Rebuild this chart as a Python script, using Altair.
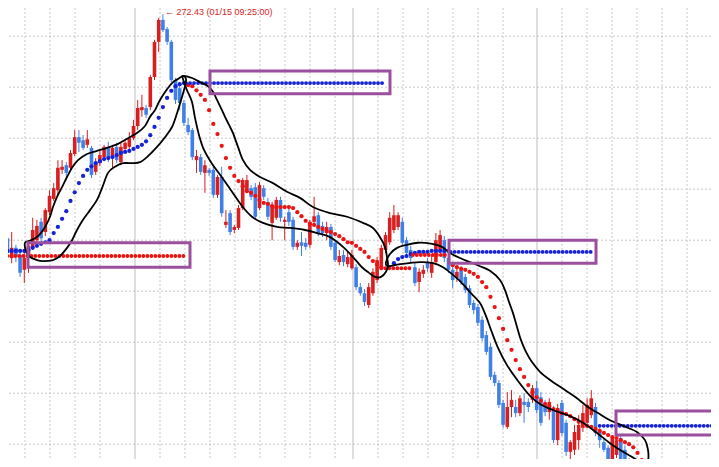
import altair as alt
import pandas as pd

RED_C = "#d81e1e"
BLUE_C = "#3f7fe6"
RED_D = "#ea1414"
BLUE_D = "#1622d6"
PURPLE = "#9b4f9f"
GRID = "#c8c8c8"

# ---- candles (price units) ----
opens = [268.10, 268.04, 267.65, 267.85, 267.71, 267.42, 267.65, 267.85, 268.00, 268.36,
         268.16, 268.55, 268.81, 268.98, 269.38, 269.47, 269.42, 269.69, 270.02, 269.96,
         269.87, 269.81, 269.34, 269.51, 269.63, 269.83, 269.61, 269.83, 269.53, 269.79,
         269.83, 270.00, 270.24, 270.55, 270.59, 270.61, 271.20, 271.89, 272.32, 272.14,
         271.89, 271.14, 270.98, 270.69, 270.26, 270.16, 269.57, 269.63, 269.32, 269.38,
         269.38, 268.89, 269.24, 268.30, 268.53, 268.20, 268.24, 268.63, 268.98, 269.02,
         269.04, 268.63, 269.02, 268.75, 268.34, 268.44, 268.79, 268.36, 268.55, 268.40,
         267.87, 267.96, 267.95, 267.91, 268.36, 268.49, 268.28, 268.14, 268.26, 267.95,
         267.57, 267.71, 267.53, 267.45, 267.47, 267.08, 266.96, 266.73, 266.96, 267.22,
         267.45, 267.81, 267.96, 268.20, 268.26, 268.36, 268.00, 267.81, 267.47, 267.18,
         267.34, 267.57, 267.36, 267.57, 267.81, 268.00, 267.65, 267.42, 267.26, 267.42,
         267.28, 267.06, 266.77, 266.69, 266.44, 266.14, 265.91, 265.36, 265.20, 264.81,
         264.34, 264.73, 264.73, 264.61, 264.83, 264.83, 264.87, 265.10, 264.92, 264.77,
         264.63, 264.67, 264.08, 264.81, 264.42, 263.85, 263.89, 264.08, 264.32, 264.42,
         264.57, 264.73, 264.28, 264.04, 263.93, 263.63, 263.79, 264.12, 263.89, 263.65]
highs = [268.59, 268.20, 268.16, 267.91, 267.81, 267.77, 268.00, 268.44, 268.40, 268.44,
         268.63, 268.98, 269.12, 269.57, 269.57, 269.53, 269.77, 270.16, 270.16, 270.06,
         270.16, 269.85, 269.61, 269.77, 269.87, 269.93, 269.87, 269.91, 269.91, 269.96,
         270.12, 270.36, 270.75, 270.85, 270.65, 271.24, 271.93, 272.36, 272.43, 272.18,
         271.93, 271.18, 271.06, 270.75, 270.40, 270.20, 269.77, 269.69, 269.57, 269.42,
         269.44, 269.28, 269.44, 268.59, 268.59, 268.30, 268.69, 269.22, 269.28, 269.08,
         269.12, 269.14, 269.08, 268.83, 268.75, 268.85, 268.85, 268.46, 268.63, 268.46,
         268.00, 268.16, 268.04, 268.40, 268.85, 268.55, 268.36, 268.36, 268.32, 268.00,
         267.81, 267.81, 267.77, 267.81, 267.53, 267.16, 267.04, 267.16, 267.45, 267.67,
         267.91, 268.16, 268.55, 268.69, 268.55, 268.44, 268.06, 267.89, 267.55, 267.45,
         267.51, 267.65, 267.71, 268.14, 268.20, 268.08, 267.71, 267.49, 267.45, 267.49,
         267.34, 267.12, 266.83, 266.75, 266.51, 266.22, 265.98, 265.42, 265.26, 264.87,
         265.02, 265.06, 264.87, 264.96, 265.00, 264.90, 265.16, 265.24, 265.02, 264.87,
         264.90, 264.75, 264.79, 264.87, 264.48, 264.08, 264.38, 264.57, 264.77, 264.90,
         265.06, 264.81, 264.32, 264.12, 263.98, 264.18, 264.14, 264.18, 263.98, 263.73]
lows = [267.91, 267.67, 267.55, 267.57, 267.28, 267.16, 267.36, 267.81, 267.91, 267.95,
        268.08, 268.49, 268.77, 268.87, 269.30, 269.24, 269.38, 269.65, 269.73, 269.77,
        269.81, 269.22, 269.28, 269.45, 269.57, 269.53, 269.42, 269.51, 269.47, 269.75,
        269.77, 269.96, 270.16, 270.42, 270.40, 270.55, 271.14, 271.69, 272.08, 271.83,
        271.10, 270.67, 270.55, 270.24, 270.06, 269.57, 269.32, 269.28, 268.93, 269.26,
        268.83, 268.83, 268.46, 268.24, 268.10, 268.14, 268.20, 268.59, 268.93, 268.79,
        268.40, 268.59, 268.79, 268.40, 268.00, 268.40, 268.36, 268.00, 268.28, 267.81,
        267.81, 267.69, 267.81, 267.85, 268.30, 268.08, 268.06, 268.00, 267.81, 267.57,
        267.51, 267.49, 267.47, 267.42, 267.02, 266.91, 266.71, 266.67, 266.91, 267.16,
        267.42, 267.75, 267.91, 268.14, 268.20, 267.89, 267.69, 267.57, 267.10, 266.98,
        267.26, 267.38, 267.26, 267.51, 267.75, 267.57, 267.36, 267.06, 267.18, 267.12,
        266.96, 266.67, 266.55, 266.32, 266.02, 265.75, 265.26, 265.14, 264.71, 264.32,
        264.30, 264.53, 264.53, 264.55, 264.42, 264.63, 264.81, 264.61, 264.36, 264.55,
        264.48, 264.02, 263.98, 264.16, 263.77, 263.65, 263.79, 263.89, 264.24, 264.32,
        264.51, 264.16, 263.93, 263.85, 263.55, 263.55, 263.73, 263.45, 263.30, 263.20]
closes = [268.00, 267.75, 267.85, 267.67, 267.36, 267.65, 267.89, 268.20, 268.28, 268.04,
          268.59, 268.87, 269.02, 269.42, 269.44, 269.32, 269.71, 270.02, 269.91, 269.81,
          269.98, 269.28, 269.53, 269.67, 269.83, 269.61, 269.81, 269.57, 269.83, 269.91,
          270.00, 270.24, 270.59, 270.61, 270.46, 271.20, 271.89, 272.32, 272.12, 271.89,
          271.14, 270.75, 270.69, 270.30, 270.12, 269.63, 269.65, 269.34, 269.47, 269.32,
          268.89, 269.24, 268.53, 268.36, 268.16, 268.26, 268.63, 269.18, 269.18, 268.85,
          268.46, 269.08, 268.85, 268.46, 268.69, 268.79, 268.44, 268.40, 268.36, 267.87,
          267.95, 267.89, 267.87, 268.36, 268.47, 268.14, 268.14, 268.26, 267.87, 267.61,
          267.69, 267.57, 267.67, 267.71, 267.08, 266.96, 266.79, 267.08, 267.38, 267.61,
          267.85, 268.10, 268.44, 268.49, 268.49, 267.95, 267.75, 267.65, 267.16, 267.38,
          267.42, 267.45, 267.57, 268.00, 268.10, 267.65, 267.42, 267.22, 267.38, 267.18,
          267.02, 266.73, 266.63, 266.38, 266.08, 265.81, 265.32, 265.20, 264.77, 264.38,
          264.73, 264.87, 264.61, 264.90, 264.77, 264.73, 265.10, 264.67, 264.42, 264.63,
          264.83, 264.08, 264.71, 264.22, 263.85, 264.04, 264.24, 264.38, 264.61, 264.77,
          264.90, 264.22, 264.08, 263.89, 263.63, 264.12, 264.08, 263.55, 263.40, 263.30]

# ---- trailing indicator dots (start bar, values) ----
long1_start = 0
long1_vals = [267.79, 267.79, 267.79, 267.79, 267.79, 267.79, 267.81, 267.85, 267.89, 267.93,
              267.96, 268.00, 268.14, 268.26, 268.42, 268.57, 268.77, 268.94, 269.12, 269.26,
              269.38, 269.45, 269.51, 269.55, 269.59, 269.61, 269.63, 269.67, 269.71, 269.73,
              269.75, 269.79, 269.83, 269.87, 269.94, 270.06, 270.22, 270.40, 270.61, 270.79,
              270.93, 271.02, 271.06, 271.08]
short1_start = 44
short1_vals = [271.04, 271.02, 270.94, 270.85, 270.75, 270.55, 270.28, 270.08, 269.85, 269.61,
               269.42, 269.26, 269.16, 269.06, 268.96, 268.93, 268.87, 268.79, 268.73, 268.71,
               268.67, 268.65, 268.65, 268.65, 268.65, 268.63, 268.55, 268.47, 268.38, 268.32,
               268.30, 268.26, 268.22, 268.18, 268.16, 268.12, 268.08, 268.02, 267.96, 267.95,
               267.89, 267.83, 267.77, 267.67, 267.59, 267.53, 267.47]
long2_start = 93
long2_vals = [267.55, 267.63, 267.67, 267.69, 267.73, 267.75, 267.77, 267.77, 267.77, 267.79,
              267.79, 267.79, 267.79, 267.79]
short2_start = 107
short2_vals = [267.51, 267.47, 267.44, 267.42, 267.38, 267.34, 267.28, 267.18, 267.08, 266.89,
               266.69, 266.47, 266.26, 266.04, 265.85, 265.65, 265.47, 265.32, 265.16, 265.02,
               264.92, 264.85, 264.79, 264.75, 264.69, 264.65, 264.61, 264.59, 264.55, 264.49,
               264.44, 264.40, 264.36, 264.34, 264.30, 264.26, 264.22, 264.18, 264.14, 264.12,
               264.08, 264.04, 264.00, 263.94, 263.83, 263.69, 263.55]

# ---- level extensions ----
ext_start = [0, 43.5, 90, 97.5, 106.5, 142]
ext_end = [43.3, 90.6, 97, 106, 140, 168.8]
ext_level = [267.69, 271.08, 267.45, 267.71, 267.77, 264.36]
ext_trend = ["short", "long", "short", "short", "long", "long"]

# ---- grid ----
grid_prices = [264, 265, 266, 267, 268, 269, 270, 271, 272]
grid_dotted = [5.17, 11.12, 17.07, 23.02, 37.31, 43.26, 49.21, 55.17, 61.12, 67.07, 73.02,
               78.98, 89.21, 95.17, 101.12, 107.07, 113.02, 118.98, 133.02, 138.98, 144.93,
               150.88, 156.83, 162.79, 168.74]
grid_solid = [31.36, 83.26, 127.07]

# ---- hand-drawn outlines (bar, price) ----
shape_a = [(5.17, 267.95), (6.36, 267.99), (8.26, 268.08), (9.93, 268.26), (11.12, 268.46),
           (11.83, 268.65), (12.79, 268.85), (13.98, 269.04), (15.17, 269.24), (16.36, 269.42),
           (17.79, 269.57), (19.93, 269.69), (22.31, 269.75), (24.69, 269.81), (27.31, 269.89),
           (29.69, 270.00), (31.83, 270.10), (33.74, 270.24), (34.93, 270.42), (36.12, 270.55),
           (37.31, 270.75), (38.98, 270.96), (40.40, 271.10), (41.60, 271.16), (42.79, 271.22),
           (43.50, 271.16), (43.26, 271.02), (42.55, 270.81), (41.36, 270.49), (40.17, 270.22),
           (38.50, 270.02), (36.60, 269.83), (34.21, 269.63), (32.55, 269.53), (30.88, 269.51),
           (28.50, 269.51), (26.60, 269.44), (24.93, 269.32), (23.50, 269.02), (22.31, 268.79),
           (20.64, 268.59), (18.98, 268.40), (17.55, 268.20), (16.36, 268.00), (15.17, 267.85),
           (13.50, 267.69), (11.83, 267.61), (9.45, 267.59), (8.02, 267.61), (6.36, 267.67),
           (5.40, 267.79)]
shape_b = [(42.79, 271.22), (44.93, 271.18), (46.83, 271.10), (48.74, 271.02), (49.93, 270.91),
           (50.88, 270.75), (51.83, 270.59), (52.79, 270.42), (53.74, 270.26), (54.69, 270.10),
           (55.88, 269.83), (57.07, 269.57), (58.74, 269.38), (61.12, 269.24), (64.21, 269.12),
           (67.55, 268.95), (70.64, 268.83), (73.74, 268.65), (77.79, 268.53), (81.83, 268.46),
           (85.64, 268.34), (88.02, 268.24), (89.69, 268.06), (90.88, 267.87), (91.36, 267.67),
           (91.60, 267.51), (91.12, 267.38), (89.93, 267.28), (88.50, 267.28), (87.07, 267.36),
           (85.40, 267.47), (83.26, 267.67), (80.88, 267.87), (77.79, 268.06), (74.69, 268.14),
           (71.83, 268.20), (68.26, 268.24), (65.17, 268.26), (61.83, 268.34), (59.21, 268.46),
           (56.83, 268.67), (54.21, 268.98), (51.83, 269.26), (49.69, 269.50), (47.79, 269.77),
           (46.60, 270.06), (45.64, 270.40), (44.93, 270.71), (43.74, 270.94), (43.02, 271.10)]
shape_c = [(91.12, 267.57), (92.07, 267.73), (93.74, 267.85), (96.12, 267.91), (98.74, 267.95),
           (102.07, 267.93), (104.45, 267.87), (106.36, 267.75), (108.74, 267.65), (111.12, 267.57),
           (113.50, 267.49), (115.88, 267.40), (118.26, 267.22), (119.45, 267.02), (120.40, 266.79),
           (121.36, 266.57), (122.31, 266.30), (123.26, 266.04), (124.45, 265.81), (125.88, 265.61),
           (127.79, 265.42), (130.17, 265.26), (133.02, 265.10), (136.12, 264.93), (139.21, 264.73),
           (141.60, 264.61), (144.45, 264.47), (147.55, 264.36), (150.88, 264.24), (152.79, 264.08),
           (153.50, 263.89), (153.50, 263.69), (152.31, 263.57), (150.88, 263.69), (147.55, 263.85),
           (144.45, 264.02), (141.36, 264.22), (138.02, 264.42), (134.93, 264.55), (130.88, 264.67),
           (127.79, 264.79), (125.40, 264.95), (122.55, 265.24), (119.93, 265.55), (117.79, 265.89),
           (116.12, 266.24), (114.93, 266.51), (113.50, 266.77), (111.12, 266.98), (109.21, 267.16),
           (107.07, 267.32), (104.69, 267.47), (102.31, 267.55), (99.21, 267.57), (94.45, 267.53),
           (91.60, 267.49)]

# ---- highlight boxes ----
box_x0 = [5.88, 49.21, 106.12, 145.88]
box_x1 = [44.45, 92.07, 141.12, 170.17]
box_p0 = [267.95, 271.32, 268.00, 264.65]
box_p1 = [267.47, 270.87, 267.55, 264.18]

peak_label = "\u2190 272.43 (01/15 09:25:00)"

# ---------------- build ----------------
xs = alt.Scale(domain=[1.119, 168.5], nice=False, zero=False, padding=0)
ys = alt.Scale(domain=[263.71, 272.553], nice=False, zero=False, padding=0)

candles = pd.DataFrame({"bar": list(range(len(opens))), "open": opens, "high": highs,
                        "low": lows, "close": closes})
candles["dir"] = ["up" if c >= o else "down" for o, c in zip(opens, closes)]
dir_color = alt.Color("dir:N", scale=alt.Scale(domain=["up", "down"], range=[RED_C, BLUE_C]),
                      legend=None)

rows = []
for start, vals, tr in [(long1_start, long1_vals, "long"), (short1_start, short1_vals, "short"),
                        (long2_start, long2_vals, "long"), (short2_start, short2_vals, "short")]:
    for k, v in enumerate(vals):
        rows.append({"bar": start + k, "value": v, "trend": tr})
ind = pd.DataFrame(rows)
trend_color = alt.Color("trend:N", scale=alt.Scale(domain=["long", "short"], range=[BLUE_D, RED_D]),
                        legend=None)

ext = pd.DataFrame({"start": ext_start, "end": ext_end, "level": ext_level, "trend": ext_trend})

orows = []
for name, pts in [("a", shape_a), ("b", shape_b), ("c", shape_c)]:
    for k, (b, p) in enumerate(pts):
        orows.append({"shape": name, "seq": k, "bar": b, "price": p})
outl = pd.DataFrame(orows)

boxes = pd.DataFrame({"x0": box_x0, "x1": box_x1, "p0": box_p0, "p1": box_p1})

peak_i = max(range(len(highs)), key=lambda i: highs[i])
lab = pd.DataFrame({"bar": [peak_i], "price": [highs[peak_i]], "text": [peak_label]})

X = lambda f: alt.X(f, scale=xs, axis=None)
Y = lambda f: alt.Y(f, scale=ys, axis=None)

hgrid = alt.Chart(pd.DataFrame({"p": grid_prices})).mark_rule(
    color=GRID, strokeDash=[2, 2], strokeWidth=1).encode(y=Y("p:Q"))
vgrid = alt.Chart(pd.DataFrame({"b": grid_dotted})).mark_rule(
    color=GRID, strokeDash=[2, 2], strokeWidth=1).encode(x=X("b:Q"))
vsolid = alt.Chart(pd.DataFrame({"b": grid_solid})).mark_rule(
    color="#bdbdbd", strokeWidth=1).encode(x=X("b:Q"))

candle_layer = alt.layer(
    alt.Chart(candles).mark_rule(strokeWidth=1, clip=True).encode(
        x=X("bar:Q"), y=Y("low:Q"), y2="high:Q", color=dir_color),
    alt.Chart(candles).mark_bar(size=3.6, clip=True).encode(
        x=X("bar:Q"), y=Y("open:Q"), y2="close:Q", color=dir_color),
)

ind_layer = alt.layer(
    alt.Chart(ind).mark_circle(size=18, opacity=1, clip=True).encode(
        x=X("bar:Q"), y=Y("value:Q"), color=trend_color),
    alt.Chart(ext).mark_rule(strokeWidth=3.8, strokeCap="round", strokeDash=[0.1, 3.9],
                             clip=True).encode(
        x=X("start:Q"), x2="end:Q", y=Y("level:Q"), color=trend_color),
)

outlines = alt.Chart(outl).mark_line(color="black", strokeWidth=1.8,
                                     interpolate="cardinal-closed", clip=True).encode(
    x=X("bar:Q"), y=Y("price:Q"), detail="shape:N", order="seq:Q")

rects = alt.Chart(boxes).mark_rect(filled=False, stroke=PURPLE, strokeWidth=3, clip=True).encode(
    x=X("x0:Q"), x2="x1:Q", y=Y("p0:Q"), y2="p1:Q")

label = alt.Chart(lab).mark_text(align="left", baseline="middle", dx=2, dy=-2, fontSize=9,
                                 font="Liberation Sans", color=RED_C).encode(
    x=X("bar:Q"), y=Y("price:Q"), text="text:N")

chart = alt.layer(hgrid, vgrid, vsolid, candle_layer, ind_layer, outlines, rects, label).resolve_scale(
    color="independent"
).properties(
    width=703, height=451, padding=0, background="white",
    autosize=alt.AutoSizeParams(type="none")
).configure_view(stroke=None)

chart.save("out.html", embed_options={"renderer": "svg", "actions": False})
